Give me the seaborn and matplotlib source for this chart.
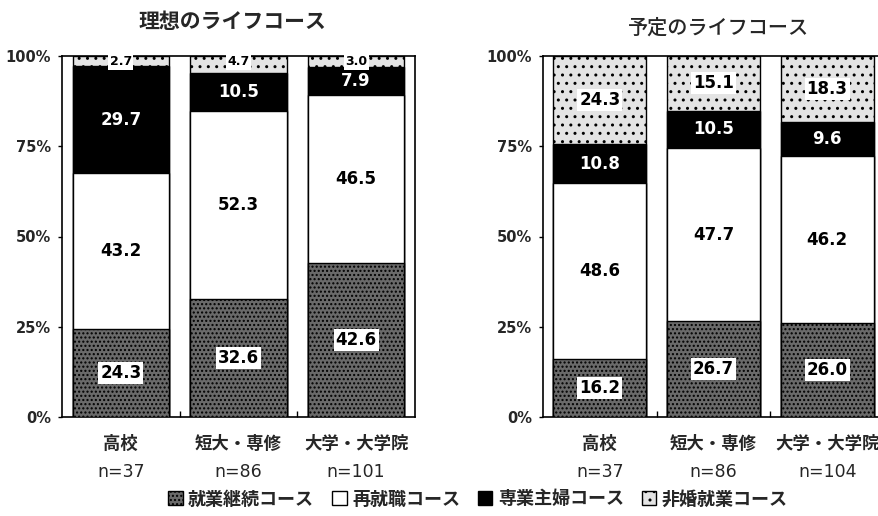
import numpy as np
import pandas as pd
import matplotlib
matplotlib.use("Agg")
import matplotlib.pyplot as plt
import seaborn as sns
from matplotlib.patches import Patch
from matplotlib.transforms import blended_transform_factory

sns.set_theme(style="white")
plt.rcParams['font.family'] = ['Noto Sans CJK JP', 'DejaVu Sans']
plt.rcParams['hatch.linewidth'] = 1.0

# ---- data ----
series_names = ["就業継続コース", "再就職コース", "専業主婦コース", "非婚就業コース"]

ideal_title = "理想のライフコース"
ideal_cats = ["高校", "短大・専修", "大学・大学院"]
ideal_n = ["n=37", "n=86", "n=101"]
ideal_keizoku = [24.3, 32.6, 42.6]
ideal_saishu = [43.2, 52.3, 46.5]
ideal_shufu = [29.7, 10.5, 7.9]
ideal_hikon = [2.7, 4.7, 3.0]

plan_title = "予定のライフコース"
plan_cats = ["高校", "短大・専修", "大学・大学院"]
plan_n = ["n=37", "n=86", "n=104"]
plan_keizoku = [16.2, 26.7, 26.0]
plan_saishu = [48.6, 47.7, 46.2]
plan_shufu = [10.8, 10.5, 9.6]
plan_hikon = [24.3, 15.1, 18.3]

yticks = [0, 25, 50, 75, 100]
ytick_labels = ["0%", "25%", "50%", "75%", "100%"]

face = ["#6a6a6a", "white", "black", "#e4e4e4"]
hatches = ["....", None, None, ".."]
text_col = ["black", "black", "white", "black"]

fig = plt.figure(figsize=(8.79, 5.16), dpi=100)
ax1 = fig.add_axes([62/879, 1-417/516, 353/879, 361/516])
ax2 = fig.add_axes([543/879, 1-417/516, 341/879, 361/516])


def draw(ax, title, cats, ns, series, title_kw):
    vals = np.array(series)  # 4 x 3
    cum = np.cumsum(vals, axis=0)
    # painter's approach: draw cumulative totals top layer first
    for k in range(3, -1, -1):
        df = pd.DataFrame({"cat": cats, "val": cum[k]})
        sns.barplot(data=df, x="cat", y="val", color=face[k], width=0.82,
                    edgecolor="black", linewidth=1.0, hatch=hatches[k],
                    saturation=1, ax=ax, zorder=2 + (3 - k))
    for k in range(4):
        for i in range(len(cats)):
            v = vals[k, i]
            bottom = cum[k, i] - v
            y = bottom + v / 2
            kw = dict(ha="center", va="center", fontsize=12, fontweight="bold",
                      color=text_col[k], zorder=20, family=['DejaVu Sans'])
            if k in (0, 3):
                kw["bbox"] = dict(boxstyle="square,pad=0.12", fc="white", ec="none")
            if v < 6:
                kw["fontsize"] = 9
                y = 100 - 1.6
            ax.text(i, y, f"{v:.1f}", **kw)
    ax.set_xlim(-0.5, 2.5)
    ax.set_ylim(0, 100)
    ax.set_yticks(yticks)
    ax.set_yticklabels(ytick_labels, fontsize=10.5, fontweight="bold",
                       family=['DejaVu Sans'])
    ax.set_xlabel("")
    ax.set_ylabel("")
    ax.tick_params(axis="y", direction="out", length=3, width=1, left=True, pad=5, color="black")
    ax.tick_params(axis="x", length=0, pad=13)
    for lab in ax.get_xticklabels():
        lab.set_fontsize(12.5)
        lab.set_fontweight("bold")
    trans = blended_transform_factory(ax.transData, fig.transFigure)
    for i, n in enumerate(ns):
        ax.text(i, 1 - 472/516, n, transform=trans, ha="center", va="center",
                fontsize=12.5, family=['DejaVu Sans'])
    ax.set_xticks([0.5, 1.5], minor=True)
    ax.tick_params(axis="x", which="minor", direction="in", length=4, width=1,
                   bottom=True, color="black")
    for s in ax.spines.values():
        s.set_visible(True)
        s.set_color("black")
        s.set_linewidth(1.2)
    ax.set_title(title, **title_kw)


draw(ax1, ideal_title, ideal_cats, ideal_n,
     [ideal_keizoku, ideal_saishu, ideal_shufu, ideal_hikon],
     dict(fontsize=15, fontweight="bold", pad=20, x=(232 - 62) / 353))
draw(ax2, plan_title, plan_cats, plan_n,
     [plan_keizoku, plan_saishu, plan_shufu, plan_hikon],
     dict(fontsize=14.5, fontweight="medium", pad=16, x=(719 - 543) / 341))

handles = [Patch(facecolor=face[k], edgecolor="black", hatch=hatches[k], linewidth=1)
           for k in range(4)]
leg = fig.legend(handles, series_names, loc="center", bbox_to_anchor=(478/879, 1-499/516),
                 ncol=4, frameon=False, handlelength=0.8, handleheight=0.8,
                 handletextpad=0.3, columnspacing=1.0,
                 prop={"size": 13, "weight": "bold",
                       "family": ['Noto Sans CJK JP', 'DejaVu Sans']})

fig.savefig("out.png", dpi=100)
